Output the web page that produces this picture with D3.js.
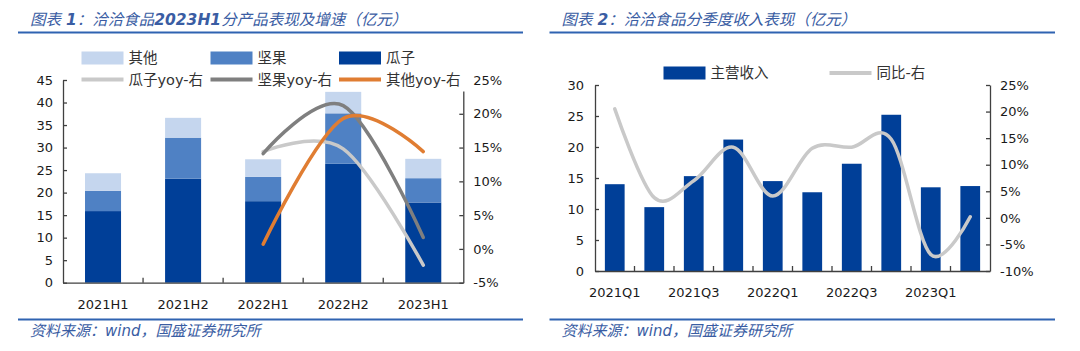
<!DOCTYPE html>
<html>
<head>
<meta charset="utf-8">
<script src="https://cdn.jsdelivr.net/npm/d3@7"></script>
<style>
  html, body { margin: 0; padding: 0; background: #fff; }
  svg { display: block; }
</style>
</head>
<body>
<svg id="chart" width="1080" height="351"></svg>
<script>
/* Left panel: revenue by product (亿元), stacked, plus yoy lines (right axis, %). */
var halfYears = ["2021H1", "2021H2", "2022H1", "2022H2", "2023H1"];
var seedsRev = [15.9, 23.1, 18.1, 26.4, 17.8];   // 瓜子
var nutsRev  = [4.5, 9.1, 5.4, 11.2, 5.4];       // 坚果
var otherRev = [3.9, 4.4, 3.9, 4.8, 4.3];        // 其他
var seedsYoy = [null, null, 14.4, 14.8, -2.4];   // 瓜子yoy
var nutsYoy  = [null, null, 14.1, 21.2, 1.7];    // 坚果yoy
var otherYoy = [null, null, 0.7, 19.3, 14.4];    // 其他yoy
var leftRevTicks = [0, 5, 10, 15, 20, 25, 30, 35, 40, 45];
var leftPctTicks = [-5, 0, 5, 10, 15, 20, 25];

/* Right panel: quarterly revenue (亿元) + yoy (%). */
var quarters = ["2021Q1", "2021Q2", "2021Q3", "2021Q4", "2022Q1",
                "2022Q2", "2022Q3", "2022Q4", "2023Q1", "2023Q2"];
var quarterRev = [14.0, 10.3, 15.3, 21.2, 14.5, 12.7, 17.3, 25.2, 13.5, 13.7];
var quarterYoy = [20.5, 3.8, 7.0, 13.3, 4.1, 13.1, 13.3, 14.8, -6.9, 0.2];
var quarterLabels = ["2021Q1", "2021Q3", "2022Q1", "2022Q3", "2023Q1"];
var rightRevTicks = [0, 5, 10, 15, 20, 25, 30];
var rightPctTicks = [-10, -5, 0, 5, 10, 15, 20, 25];

var C = {
  seeds: "#003f98", nuts: "#4f81c4", other: "#c5d6ee",
  seedsYoy: "#c9c9c9", nutsYoy: "#7f7f7f", otherYoy: "#e07d32",
  yoy: "#c9c9c9", axis: "#404040", tick: "#1a1a1a",
  title: "#3a5da3", rule: "#2f63b1", legend: "#333"
};
var FONT = "'DejaVu Sans', 'Noto Sans CJK SC', sans-serif";

var svg = d3.select("#chart");

function pct(d) { return d + "%"; }

/* Title + rules + source note for one panel. */
function frame(x0, x1, titleParts) {
  var t = svg.append("text")
    .attr("x", x0 + 12).attr("y", 25)
    .attr("fill", C.title)
    .attr("font-family", FONT)
    .attr("font-size", 15.5)
    .attr("font-style", "italic");
  titleParts.forEach(function (p) {
    t.append("tspan").attr("font-weight", p.bold ? "bold" : "normal").text(p.t);
  });
  svg.append("line").attr("x1", x0).attr("x2", x1).attr("y1", 32.5).attr("y2", 32.5)
    .attr("stroke", C.rule).attr("stroke-width", 2);
  svg.append("line").attr("x1", x0).attr("x2", x1).attr("y1", 319.5).attr("y2", 319.5)
    .attr("stroke", C.rule).attr("stroke-width", 2);
  svg.append("text")
    .attr("x", x0 + 12).attr("y", 336)
    .attr("fill", C.title)
    .attr("font-family", FONT)
    .attr("font-size", 15)
    .attr("font-style", "italic")
    .text("资料来源：wind，国盛证券研究所");
}

function styleAxis(g) {
  g.select(".domain").attr("stroke", C.axis).attr("stroke-width", 1.3);
  g.selectAll(".tick line").attr("stroke", C.axis).attr("stroke-width", 1.3);
  g.selectAll(".tick text").attr("fill", C.tick)
    .attr("font-family", FONT).attr("font-size", 13);
}

/* Inward ticks at category boundaries on the x axis. */
function boundaryTicks(x, n, yBot) {
  var step = x.step(), start = x.range()[0];
  d3.range(1, n).forEach(function (i) {
    svg.append("line")
      .attr("x1", start + i * step).attr("x2", start + i * step)
      .attr("y1", yBot).attr("y2", yBot - 5)
      .attr("stroke", C.axis).attr("stroke-width", 1.3);
  });
}

function legendRect(x, y, color, label) {
  svg.append("rect").attr("x", x).attr("y", y - 6.5).attr("width", 42).attr("height", 13)
    .attr("fill", color);
  svg.append("text").attr("x", x + 47).attr("y", y + 5)
    .attr("fill", C.legend).attr("font-family", FONT).attr("font-size", 14.5).text(label);
}
function legendLine(x, y, color, label) {
  svg.append("line").attr("x1", x).attr("x2", x + 42).attr("y1", y).attr("y2", y)
    .attr("stroke", color).attr("stroke-width", 4);
  svg.append("text").attr("x", x + 47).attr("y", y + 5)
    .attr("fill", C.legend).attr("font-family", FONT).attr("font-size", 14.5).text(label);
}

/* ---------------- Left panel ---------------- */
(function () {
  var x0 = 63, x1 = 463.3, yTop = 80, yBot = 282.7;
  frame(18, 523, [{ t: "图表 " }, { t: "1", bold: true }, { t: "：洽洽食品" },
                  { t: "2023H1", bold: true }, { t: "分产品表现及增速（亿元）" }]);

  var x = d3.scaleBand().domain(halfYears).range([x0, x1])
    .paddingInner(0.55).paddingOuter(0.275);
  var y = d3.scaleLinear().domain([0, 45]).range([yBot, yTop]);
  var yp = d3.scaleLinear().domain([-5, 25]).range([yBot, yTop]);

  var table = halfYears.map(function (h, i) {
    return { period: h, seeds: seedsRev[i], nuts: nutsRev[i], other: otherRev[i] };
  });
  var stacked = d3.stack().keys(["seeds", "nuts", "other"])(table);
  svg.append("g").selectAll("g").data(stacked).join("g")
    .attr("fill", function (s) { return C[s.key]; })
    .selectAll("rect").data(function (s) { return s; }).join("rect")
    .attr("x", function (d) { return x(d.data.period); })
    .attr("width", x.bandwidth())
    .attr("y", function (d) { return y(d[1]); })
    .attr("height", function (d) { return y(d[0]) - y(d[1]); });

  var line = d3.line()
    .x(function (d) { return x(d.p) + x.bandwidth() / 2; })
    .y(function (d) { return yp(d.v); })
    .curve(d3.curveCardinal.tension(0));
  [["seedsYoy", seedsYoy], ["nutsYoy", nutsYoy], ["otherYoy", otherYoy]].forEach(function (s) {
    var pts = halfYears.map(function (h, i) { return { p: h, v: s[1][i] }; })
      .filter(function (d) { return d.v != null; });
    svg.append("path").datum(pts)
      .attr("d", line)
      .attr("fill", "none")
      .attr("stroke", C[s[0]])
      .attr("stroke-width", 3.5)
      .attr("stroke-linecap", "round");
  });

  svg.append("g").attr("transform", "translate(" + x0 + ",0)")
    .call(d3.axisLeft(y).tickValues(leftRevTicks).tickSize(-4).tickSizeOuter(0).tickPadding(10))
    .call(styleAxis);
  svg.append("g").attr("transform", "translate(" + x1 + ",0)")
    .call(d3.axisRight(yp).tickValues(leftPctTicks).tickFormat(pct).tickSize(-4).tickSizeOuter(0).tickPadding(10))
    .call(styleAxis);
  svg.append("g").attr("transform", "translate(0," + yBot + ")")
    .call(d3.axisBottom(x).tickSize(0).tickPadding(17))
    .call(styleAxis);
  boundaryTicks(x, halfYears.length, yBot);

  /* Legend sits on a white box that hides the top of the right axis. */
  svg.append("rect").attr("x", 72).attr("y", 44).attr("width", 396).attr("height", 47.5)
    .attr("fill", "#fff");
  legendRect(81.5, 58, C.other, "其他");
  legendRect(210.5, 58, C.nuts, "坚果");
  legendRect(339, 58, C.seeds, "瓜子");
  legendLine(81.5, 79.5, C.seedsYoy, "瓜子yoy-右");
  legendLine(210.5, 79.5, C.nutsYoy, "坚果yoy-右");
  legendLine(339, 79.5, C.otherYoy, "其他yoy-右");
})();

/* ---------------- Right panel ---------------- */
(function () {
  var x0 = 595, x1 = 990, yTop = 85, yBot = 271;
  frame(549.5, 1055, [{ t: "图表 " }, { t: "2", bold: true }, { t: "：洽洽食品分季度收入表现（亿元）" }]);

  var x = d3.scaleBand().domain(quarters).range([x0, x1])
    .paddingInner(0.5).paddingOuter(0.25);
  var y = d3.scaleLinear().domain([0, 30]).range([yBot, yTop]);
  var yp = d3.scaleLinear().domain([-10, 25]).range([yBot, yTop]);

  svg.append("g").attr("fill", C.seeds)
    .selectAll("rect").data(quarters).join("rect")
    .attr("x", function (q) { return x(q); })
    .attr("width", x.bandwidth())
    .attr("y", function (q, i) { return y(quarterRev[i]); })
    .attr("height", function (q, i) { return yBot - y(quarterRev[i]); });

  var line = d3.line()
    .x(function (d) { return x(d.p) + x.bandwidth() / 2; })
    .y(function (d) { return yp(d.v); })
    .curve(d3.curveCardinal.tension(0));
  svg.append("path")
    .datum(quarters.map(function (q, i) { return { p: q, v: quarterYoy[i] }; }))
    .attr("d", line)
    .attr("fill", "none")
    .attr("stroke", C.yoy)
    .attr("stroke-width", 3.5)
    .attr("stroke-linecap", "round");

  svg.append("g").attr("transform", "translate(" + x0 + ",0)")
    .call(d3.axisLeft(y).tickValues(rightRevTicks).tickSize(-4).tickSizeOuter(0).tickPadding(11))
    .call(styleAxis);
  svg.append("g").attr("transform", "translate(" + x1 + ",0)")
    .call(d3.axisRight(yp).tickValues(rightPctTicks).tickFormat(pct).tickSize(-4).tickSizeOuter(0).tickPadding(10))
    .call(styleAxis);
  svg.append("g").attr("transform", "translate(0," + yBot + ")")
    .call(d3.axisBottom(x).tickValues(quarterLabels).tickSize(0).tickPadding(17))
    .call(styleAxis);
  boundaryTicks(x, quarters.length, yBot);

  legendRect(663.5, 73, C.seeds, "主营收入");
  legendLine(829.5, 73, C.yoy, "同比-右");
})();
</script>
</body>
</html>
